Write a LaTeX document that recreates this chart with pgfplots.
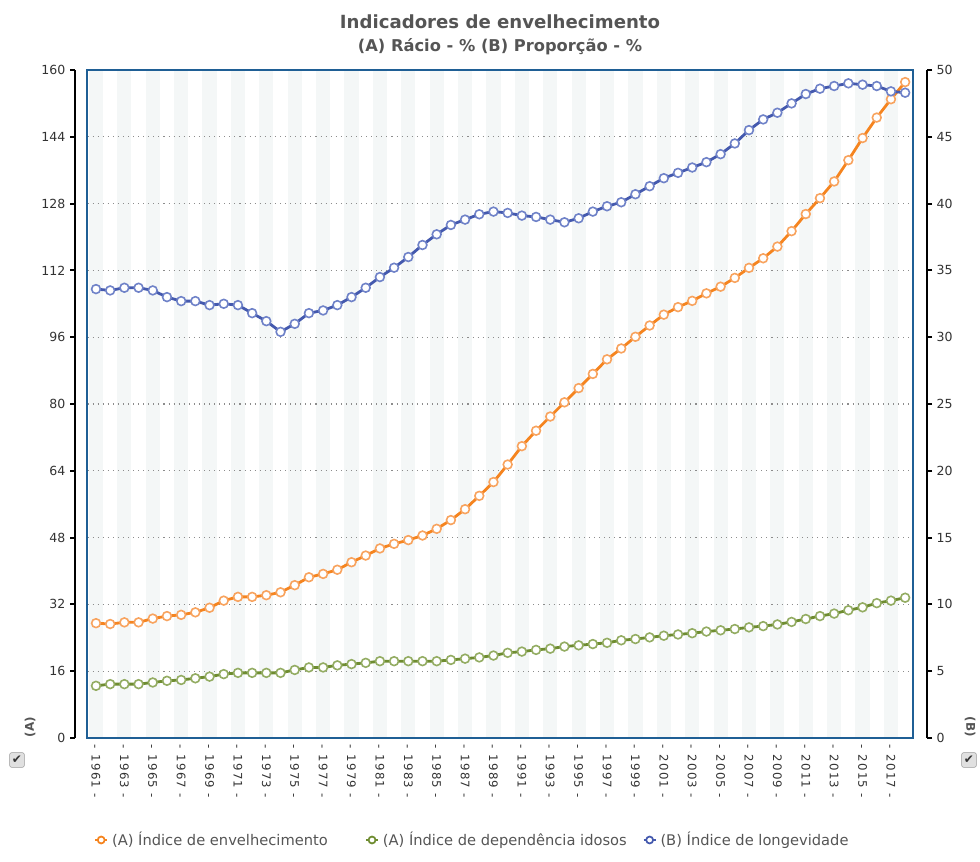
\documentclass[border=0pt]{standalone}
\usepackage{fontspec}
\setmainfont{DejaVu Sans}
\newfontfamily\xtickfont[LetterSpace=12]{DejaVu Sans}
\usepackage{pgfplots}
\usepackage{pgfplotstable}
\pgfplotsset{compat=1.18}
\definecolor{orangeL}{HTML}{F5841F}
\definecolor{orangeM}{HTML}{F8A35E}
\definecolor{greenL}{HTML}{6E8C30}
\definecolor{greenM}{HTML}{93AC62}
\definecolor{blueL}{HTML}{4459AE}
\definecolor{blueM}{HTML}{6F82C8}
\definecolor{framec}{HTML}{1F5F95}
\definecolor{stripe}{HTML}{F4F7F7}
\definecolor{titlec}{HTML}{555555}
\definecolor{tickc}{HTML}{333333}
\pgfplotstableread{
year env dep lon
1961 27.5 12.5 33.6
1962 27.3 12.9 33.5
1963 27.7 12.9 33.7
1964 27.7 12.9 33.7
1965 28.6 13.3 33.5
1966 29.2 13.7 33.0
1967 29.5 13.9 32.7
1968 30.1 14.3 32.7
1969 31.2 14.7 32.4
1970 32.9 15.3 32.5
1971 33.8 15.6 32.4
1972 33.8 15.6 31.8
1973 34.2 15.6 31.2
1974 34.9 15.6 30.4
1975 36.6 16.3 31.0
1976 38.5 16.9 31.8
1977 39.3 16.9 32.0
1978 40.3 17.4 32.4
1979 42.1 17.7 33.0
1980 43.7 18.0 33.7
1981 45.4 18.4 34.5
1982 46.5 18.4 35.2
1983 47.4 18.4 36.0
1984 48.5 18.4 36.9
1985 50.1 18.4 37.7
1986 52.2 18.7 38.4
1987 54.8 19.0 38.8
1988 58.0 19.3 39.2
1989 61.3 19.75 39.4
1990 65.5 20.4 39.3
1991 69.9 20.7 39.1
1992 73.6 21.1 39.0
1993 77.0 21.4 38.8
1994 80.4 21.9 38.6
1995 83.8 22.2 38.9
1996 87.2 22.5 39.4
1997 90.7 22.8 39.8
1998 93.3 23.4 40.1
1999 96.1 23.7 40.7
2000 98.8 24.1 41.3
2001 101.4 24.5 41.9
2002 103.2 24.8 42.3
2003 104.7 25.1 42.7
2004 106.5 25.5 43.1
2005 108.1 25.8 43.7
2006 110.2 26.1 44.5
2007 112.6 26.5 45.5
2008 114.9 26.8 46.3
2009 117.7 27.2 46.8
2010 121.4 27.8 47.5
2011 125.5 28.5 48.2
2012 129.3 29.2 48.6
2013 133.3 29.8 48.8
2014 138.4 30.6 49.0
2015 143.7 31.3 48.9
2016 148.6 32.3 48.8
2017 153.0 32.9 48.4
2018 157.1 33.6 48.3
}\datatable
\pgfplotsset{
  base/.style={scale only axis, width=619.1pt, height=501pt, at={(65.6pt,93pt)}, anchor=south west, xmin=1960.4, xmax=2018.55},
  side/.style={scale only axis, width=639pt, height=501pt, at={(56.25pt,93pt)}, anchor=south west, xmin=0, xmax=1,
    axis x line=none, y axis line style={-, line width=1.5pt, black}, tick align=outside, major tick length=3.75pt,
    y tick style={line width=1.5pt, black}, yticklabel style={font=\fontsize{9.4}{10}\selectfont, text=tickc},
    /pgf/number format/assume math mode=true},
  ser/.style={#1, line width=2.1pt, mark=*, mark size=3.3pt},
}
\begin{document}
\begin{tikzpicture}
\path[use as bounding box] (0,0) rectangle (735pt,646.5pt);
% stripes
\begin{axis}[base, hide axis, ymin=0, ymax=160]
\pgfplotsinvokeforeach{1961,1963,...,2017}{\fill[stripe] (axis cs:#1-0.5,0) rectangle (axis cs:#1+0.5,160);}
\end{axis}
% main (A) axis
\begin{axis}[base, ymin=0, ymax=160,
  ytick={16,32,...,144}, yticklabels={}, y tick style={draw=none},
  ymajorgrids, major grid style={dash pattern=on 0.8pt off 3pt, color=black!45, line width=0.8pt},
  xtick={1961,1963,...,2017}, x tick style={draw=none},
  xticklabels={- 1961 -,- 1963 -,- 1965 -,- 1967 -,- 1969 -,- 1971 -,- 1973 -,- 1975 -,- 1977 -,- 1979 -,- 1981 -,- 1983 -,- 1985 -,- 1987 -,- 1989 -,- 1991 -,- 1993 -,- 1995 -,- 1997 -,- 1999 -,- 2001 -,- 2003 -,- 2005 -,- 2007 -,- 2009 -,- 2011 -,- 2013 -,- 2015 -,- 2017 -},
  xticklabel style={rotate=-90, anchor=west, inner sep=0pt, font=\xtickfont\fontsize{8.8}{9}\selectfont, text=tickc},
  xticklabel shift=5pt,
  axis line style={draw=framec, line width=1.5pt},
  legend columns=3,
  legend image code/.code={\draw[#1, line width=1.3pt] (0pt,0pt) -- (9pt,0pt); \draw[#1, line width=1.3pt, fill=white] (4.5pt,0pt) circle (2.6pt);},
  legend style={at={(axis description cs:0.008,-0.1527)}, anchor=west, draw=none, fill=none,
    font=\fontsize{11}{12}\selectfont, text=titlec, inner sep=0pt,
    /tikz/every odd column/.append style={column sep=1pt},
    /tikz/column 2/.style={column sep=26pt},
    /tikz/column 4/.style={column sep=10pt}},
]
\addplot[ser=greenL, mark options={fill=white, draw=greenM, line width=1.2pt}, forget plot] table[x=year, y=dep] {\datatable};
\addplot[ser=orangeL, mark options={fill=white, draw=orangeM, line width=1.2pt}, forget plot] table[x=year, y=env] {\datatable};
\addlegendimage{draw=orangeL}
\addlegendentry{(A) Índice de envelhecimento}
\addlegendimage{draw=greenL}
\addlegendentry{(A) Índice de dependência idosos}
\addlegendimage{draw=blueL}
\addlegendentry{(B) Índice de longevidade}
\end{axis}
% (B) axis data
\begin{axis}[base, hide axis, ymin=0, ymax=50]
\addplot[ser=blueL, mark options={fill=white, draw=blueM, line width=1.2pt}] table[x=year, y=lon] {\datatable};
\end{axis}
% left axis line
\begin{axis}[side, axis y line*=left, ymin=0, ymax=160, ytick={0,16,...,160}]
\end{axis}
% right axis line
\begin{axis}[side, axis y line*=right, ymin=0, ymax=50, ytick={0,5,...,50}]
\end{axis}
% titles
\node[font=\bfseries\fontsize{13.6}{15}\selectfont, text=titlec] at (375pt,630pt) {Indicadores de envelhecimento};
\node[font=\bfseries\fontsize{12.2}{14}\selectfont, text=titlec] at (375pt,611.25pt) {(A) Rácio - \% (B) Proporção - \%};
\node[font=\bfseries\fontsize{9}{10}\selectfont, text=titlec, rotate=90] at (22.5pt,101.25pt) {(A)};
\node[font=\bfseries\fontsize{9}{10}\selectfont, text=titlec, rotate=-90] at (727.5pt,101.25pt) {(B)};
% checkboxes
\node[draw=black!40, fill=black!12, rounded corners=1.5pt, minimum size=11pt, inner sep=0pt, font=\fontsize{9}{9}\selectfont, text=black!80] at (12.75pt,76.5pt) {✔};
\node[draw=black!40, fill=black!12, rounded corners=1.5pt, minimum size=11pt, inner sep=0pt, font=\fontsize{9}{9}\selectfont, text=black!80] at (726.75pt,76.5pt) {✔};
\end{tikzpicture}
\end{document}
